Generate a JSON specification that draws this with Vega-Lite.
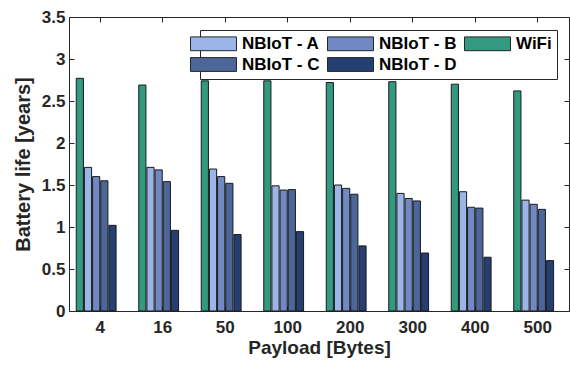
{
  "$schema": "https://vega.github.io/schema/vega-lite/v6.json",
  "autosize": "none",
  "width": 500,
  "height": 294,
  "padding": {"left": 69, "top": 17, "right": 1, "bottom": 54},
  "config": {
    "font": "Liberation Sans",
    "view": {"stroke": "#262626", "strokeWidth": 1},
    "axis": {
      "labelFont": "Liberation Sans",
      "labelFontWeight": "bold",
      "labelFontSize": 17,
      "labelColor": "#262626",
      "titleFont": "Liberation Sans",
      "titleFontWeight": "bold",
      "titleFontSize": 19,
      "titleColor": "#262626",
      "domainColor": "#262626",
      "tickColor": "#262626",
      "grid": false
    }
  },
  "data": {
    "values": [
      {"payload": "4", "series": "WiFi", "life": 2.77},
      {"payload": "4", "series": "NBIoT - A", "life": 1.71},
      {"payload": "4", "series": "NBIoT - B", "life": 1.60},
      {"payload": "4", "series": "NBIoT - C", "life": 1.55},
      {"payload": "4", "series": "NBIoT - D", "life": 1.02},
      {"payload": "16", "series": "WiFi", "life": 2.69},
      {"payload": "16", "series": "NBIoT - A", "life": 1.71},
      {"payload": "16", "series": "NBIoT - B", "life": 1.68},
      {"payload": "16", "series": "NBIoT - C", "life": 1.54},
      {"payload": "16", "series": "NBIoT - D", "life": 0.96},
      {"payload": "50", "series": "WiFi", "life": 2.74},
      {"payload": "50", "series": "NBIoT - A", "life": 1.69},
      {"payload": "50", "series": "NBIoT - B", "life": 1.60},
      {"payload": "50", "series": "NBIoT - C", "life": 1.52},
      {"payload": "50", "series": "NBIoT - D", "life": 0.91},
      {"payload": "100", "series": "WiFi", "life": 2.74},
      {"payload": "100", "series": "NBIoT - A", "life": 1.49},
      {"payload": "100", "series": "NBIoT - B", "life": 1.44},
      {"payload": "100", "series": "NBIoT - C", "life": 1.445},
      {"payload": "100", "series": "NBIoT - D", "life": 0.945},
      {"payload": "200", "series": "WiFi", "life": 2.72},
      {"payload": "200", "series": "NBIoT - A", "life": 1.50},
      {"payload": "200", "series": "NBIoT - B", "life": 1.46},
      {"payload": "200", "series": "NBIoT - C", "life": 1.39},
      {"payload": "200", "series": "NBIoT - D", "life": 0.775},
      {"payload": "300", "series": "WiFi", "life": 2.73},
      {"payload": "300", "series": "NBIoT - A", "life": 1.40},
      {"payload": "300", "series": "NBIoT - B", "life": 1.34},
      {"payload": "300", "series": "NBIoT - C", "life": 1.31},
      {"payload": "300", "series": "NBIoT - D", "life": 0.69},
      {"payload": "400", "series": "WiFi", "life": 2.70},
      {"payload": "400", "series": "NBIoT - A", "life": 1.42},
      {"payload": "400", "series": "NBIoT - B", "life": 1.235},
      {"payload": "400", "series": "NBIoT - C", "life": 1.225},
      {"payload": "400", "series": "NBIoT - D", "life": 0.64},
      {"payload": "500", "series": "WiFi", "life": 2.62},
      {"payload": "500", "series": "NBIoT - A", "life": 1.32},
      {"payload": "500", "series": "NBIoT - B", "life": 1.27},
      {"payload": "500", "series": "NBIoT - C", "life": 1.21},
      {"payload": "500", "series": "NBIoT - D", "life": 0.60}
    ]
  },
  "resolve": {"axis": {"x": "independent", "y": "independent"}},
  "layer": [
    {
      "mark": {"type": "bar", "stroke": "#1a1a1a", "strokeWidth": 1},
      "encoding": {
        "x": {
          "field": "payload",
          "type": "nominal",
          "sort": ["4", "16", "50", "100", "200", "300", "400", "500"],
          "scale": {"paddingInner": 0.232, "paddingOuter": 0.116},
          "axis": {
            "title": "Payload [Bytes]",
            "labelAngle": 0,
            "domain": false,
            "tickSize": -5,
            "labelPadding": 13,
            "titlePadding": 3
          }
        },
        "xOffset": {
          "field": "series",
          "type": "nominal",
          "scale": {
            "domain": ["WiFi", "NBIoT - A", "NBIoT - B", "NBIoT - C", "NBIoT - D", "spare"],
            "paddingInner": 0.12,
            "paddingOuter": 0
          }
        },
        "y": {
          "field": "life",
          "type": "quantitative",
          "scale": {"domain": [0, 3.5], "nice": false},
          "axis": {
            "title": "Battery life [years]",
            "titleFontSize": 20,
            "values": [0, 0.5, 1, 1.5, 2, 2.5, 3, 3.5],
            "format": ".1~f",
            "domain": false,
            "tickSize": -5,
            "labelPadding": 9,
            "titlePadding": 8
          }
        },
        "color": {
          "field": "series",
          "type": "nominal",
          "scale": {
            "domain": ["NBIoT - A", "NBIoT - B", "WiFi", "NBIoT - C", "NBIoT - D"],
            "range": ["#9bb5e8", "#7089c2", "#339980", "#4d6699", "#253f73"]
          },
          "legend": {
            "title": null,
            "orient": "none",
            "legendX": 131,
            "legendY": 13,
            "columns": 3,
            "direction": "horizontal",
            "symbolType": "M-3,-0.9H3V0.9H-3Z",
            "symbolSize": 235,
            "symbolStrokeColor": "#262626",
            "symbolStrokeWidth": 1,
            "symbolOpacity": 1,
            "labelOffset": 20,
            "labelFont": "Liberation Sans",
            "labelFontWeight": "bold",
            "labelFontSize": 17,
            "labelColor": "#000000",
            "columnPadding": 5,
            "rowPadding": 2,
            "padding": 5,
            "strokeColor": "#262626",
            "fillColor": "#ffffff"
          }
        }
      }
    },
    {
      "mark": {"type": "bar", "opacity": 0},
      "encoding": {
        "x": {
          "field": "payload",
          "type": "nominal",
          "sort": ["4", "16", "50", "100", "200", "300", "400", "500"],
          "axis": {"orient": "top", "title": null, "labels": false, "domain": false, "tickSize": -5}
        },
        "y": {
          "field": "life",
          "type": "quantitative",
          "axis": {
            "orient": "right",
            "title": null,
            "labels": false,
            "domain": false,
            "tickSize": -5,
            "values": [0, 0.5, 1, 1.5, 2, 2.5, 3, 3.5]
          }
        }
      }
    }
  ]
}
